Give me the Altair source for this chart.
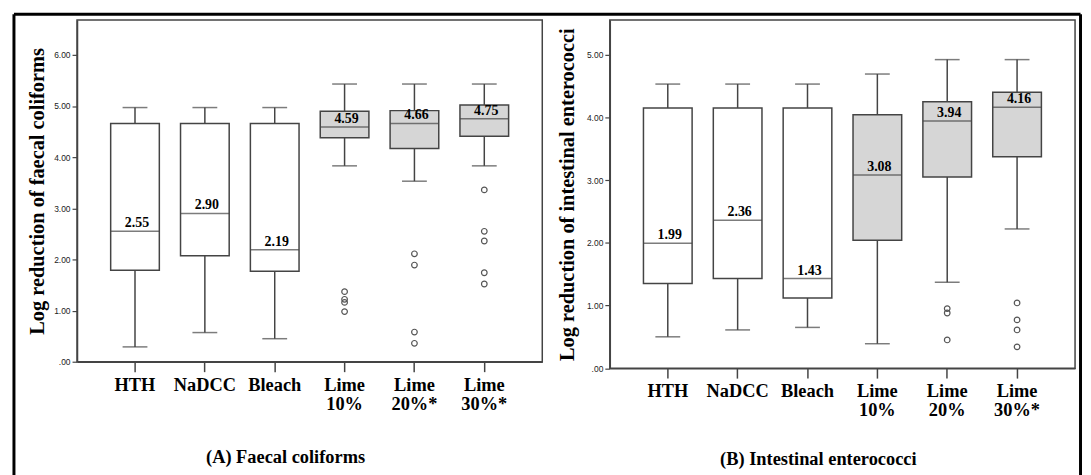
import altair as alt
import pandas as pd

# ---------------- data ----------------
cats_a = ["HTH", "NaDCC", "Bleach", "Lime 10%", "Lime 20%*", "Lime 30%*"]
low_a = [0.29, 0.57, 0.45, 3.83, 3.53, 3.83]
q1_a = [1.79, 2.07, 1.77, 4.38, 4.17, 4.41]
med_a = [2.55, 2.90, 2.19, 4.59, 4.66, 4.75]
q3_a = [4.66, 4.66, 4.66, 4.90, 4.91, 5.02]
high_a = [4.97, 4.97, 4.97, 5.43, 5.43, 5.43]
out_cat_a = ["Lime 10%"] * 4 + ["Lime 20%*"] * 4 + ["Lime 30%*"] * 5
out_val_a = [1.37, 1.22, 1.16, 0.98, 2.11, 1.89, 0.58, 0.36, 3.36, 2.55, 2.36, 1.74, 1.52]

cats_b = ["HTH", "NaDCC", "Bleach", "Lime 10%", "Lime 20%", "Lime 30%*"]
low_b = [0.50, 0.61, 0.65, 0.39, 1.37, 2.22]
q1_b = [1.35, 1.43, 1.12, 2.04, 3.05, 3.37]
med_b = [1.99, 2.36, 1.43, 3.08, 3.94, 4.16]
q3_b = [4.15, 4.15, 4.15, 4.04, 4.25, 4.40]
high_b = [4.53, 4.53, 4.53, 4.69, 4.92, 4.92]
out_cat_b = ["Lime 20%"] * 3 + ["Lime 30%*"] * 4
out_val_b = [0.95, 0.88, 0.45, 1.04, 0.77, 0.61, 0.34]

SERIF = "Liberation Serif"
SANS = "Liberation Sans"
LINE = "#444444"


def panel(cats, low, q1, med, q3, high, ocat, oval, ymax, height, nticks,
          ytitle, caption, ytitle_x, cap_y, border=False):
    df = pd.DataFrame({"cat": cats, "low": low, "q1": q1, "median": med,
                       "q3": q3, "high": high})
    df["group"] = ["lime" if c.startswith("Lime") else "other" for c in cats]
    odf = pd.DataFrame({"cat": ocat, "val": oval})

    xax = alt.Axis(
        labelExpr="split(datum.label, ' ')", labelAngle=0,
        labelFont=SERIF, labelFontWeight="bold", labelFontSize=18.5,
        labelColor="black", labelLineHeight=19, labelPadding=4,
        labelBaseline="top",
        tickSize=10, tickColor=LINE, tickWidth=1.5,
        domainColor=LINE, domainWidth=1.5,
        title=caption, titleFont=SERIF, titleFontWeight="bold",
        titleFontSize=18.5, titleColor="black",
        titleX=209.5, titleY=cap_y, titleAlign="center",
        titleBaseline="alphabetic",
    )
    x = alt.X("cat:N", sort=cats, axis=xax,
              scale=alt.Scale(paddingInner=0, paddingOuter=0.33))

    yax = alt.Axis(
        values=list(range(nticks + 1)),
        labelExpr="datum.value == 0 ? '.00' : format(datum.value, '.2f')",
        labelFont=SANS, labelFontSize=8.5, labelColor="#222222",
        labelPadding=2, tickSize=5, tickColor=LINE, tickWidth=1.2,
        domainColor=LINE, domainWidth=1.5, grid=False,
        title=ytitle, titleFont=SERIF, titleFontWeight="bold",
        titleFontSize=20.5, titleColor="black",
        titleX=ytitle_x, titleAngle=-90, titleBaseline="middle",
        titleAlign="center", titleY=height / 2,
    )
    ysc = alt.Scale(domain=[0, ymax], nice=False, zero=True)

    def Y(field):
        return alt.Y(field, type="quantitative", scale=ysc, axis=yax)

    base = alt.Chart(df)
    wl = base.mark_rule(color=LINE, strokeWidth=1.5).encode(
        x=x, y=Y("low"), y2="q1")
    wh = base.mark_rule(color=LINE, strokeWidth=1.5).encode(
        x=x, y=Y("q3"), y2="high")
    cl = base.mark_tick(size=25, thickness=1.5, color=LINE).encode(
        x=x, y=Y("low"))
    ch = base.mark_tick(size=25, thickness=1.5, color=LINE).encode(
        x=x, y=Y("high"))
    box = base.mark_bar(size=49, stroke=LINE, strokeWidth=1.5).encode(
        x=x, y=Y("q1"), y2="q3",
        fill=alt.Fill("group:N", legend=None,
                      scale=alt.Scale(domain=["other", "lime"],
                                      range=["white", "#d6d6d6"])))
    md = base.mark_tick(size=49, thickness=1.5, color=LINE).encode(
        x=x, y=Y("median"))
    lab = base.mark_text(font=SERIF, fontWeight="bold", fontSize=14,
                         color="black", baseline="alphabetic", dy=-4,
                         dx=2).encode(
        x=x, y=Y("median"), text=alt.Text("median:Q", format=".2f"))
    pts = alt.Chart(odf).mark_point(shape="circle", size=32, filled=False,
                                    stroke="#555555", strokeWidth=1.2,
                                    opacity=1).encode(x=x, y=Y("val"))
    layers = [wl, wh, cl, ch, box, md, lab, pts]
    if border:
        one = alt.Chart(pd.DataFrame({"k": [0]}))
        style = dict(color="black", strokeWidth=3)
        layers += [
            one.mark_rule(**style).encode(x=alt.value(-63.5), x2=alt.value(1010.5),
                                          y=alt.value(-6)),
            one.mark_rule(**style).encode(x=alt.value(-63.5), y=alt.value(-6),
                                          y2=alt.value(470)),
            one.mark_rule(**style).encode(x=alt.value(1010.5), y=alt.value(-6),
                                          y2=alt.value(470)),
        ]
    return alt.layer(*layers).properties(width=468.5, height=height)


pa = panel(cats_a, low_a, q1_a, med_a, q3_a, high_a, out_cat_a, out_val_a,
           6.68, 344, 6, "Log reduction of faecal coliforms",
           "(A) Faecal coliforms", -39.5, 101, border=True)
pb = panel(cats_b, low_b, q1_b, med_b, q3_b, high_b, out_cat_b, out_val_b,
           5.55, 350.5, 5, "Log reduction of intestinal enterococci",
           "(B) Intestinal enterococci", -42.5, 97)

chart = alt.hconcat(pa, pb, spacing=67.5, bounds="flush").resolve_scale(
    x="independent", y="independent", fill="independent"
).properties(
    padding={"left": 3.5, "top": 1.5, "right": 0, "bottom": 0},
    background="white",
).configure_view(stroke=LINE, strokeWidth=1.5)

chart.save("out.html", embed_options={"renderer": "svg", "actions": False})
